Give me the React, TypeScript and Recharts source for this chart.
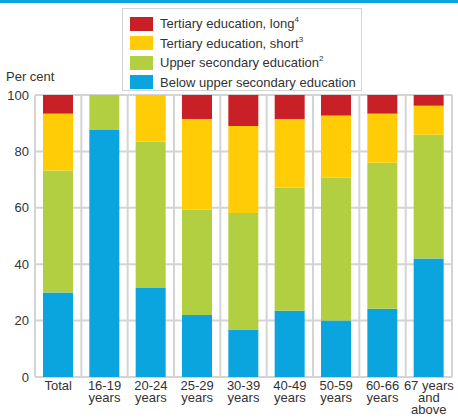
import { BarChart, Bar, XAxis, YAxis, CartesianGrid, Legend } from 'recharts'

// ─── Data ─────────────────────────────────────────────────────────────────────

const categories = ['Total', '16-19\nyears', '20-24\nyears', '25-29\nyears', '30-39\nyears', '40-49\nyears', '50-59\nyears', '60-66\nyears', '67 years\nand\nabove']
const belowUpperSecondary = [30, 87.6, 31.6, 22, 16.8, 23.5, 20, 24.2, 42]
const upperSecondary      = [43.2, 12.4, 51.8, 37.3, 41.4, 43.6, 50.7, 51.8, 43.9]
const tertiaryShort       = [20.2, 0, 16.6, 32.2, 30.8, 24.4, 22, 17.4, 10.3]
const tertiaryLong        = [6.6, 0, 0, 8.5, 11, 8.5, 7.3, 6.6, 3.8]
const yTicks = [0, 20, 40, 60, 80, 100]

// ─── Colours ──────────────────────────────────────────────────────────────────

const BLUE   = '#0AA5DE'
const GREEN  = '#B1CF40'
const YELLOW = '#FFCC05'
const RED    = '#C91F26'
const GRID   = '#D4D4D4'
const TEXT   = '#333333'
const FONT   = '"Liberation Sans", Arial, sans-serif'

const data = categories.map((c, i) => ({
  name: c,
  below: belowUpperSecondary[i],
  upper: upperSecondary[i],
  short: tertiaryShort[i],
  long: tertiaryLong[i],
}))

const legendItems = [
  { label: 'Tertiary education, long', sup: '4', color: RED },
  { label: 'Tertiary education, short', sup: '3', color: YELLOW },
  { label: 'Upper secondary education', sup: '2', color: GREEN },
  { label: 'Below upper secondary education', sup: '', color: BLUE },
]

function LegendBox() {
  return (
    <div style={{
      border: `1.5px solid ${GRID}`, background: '#fff',
      width: 240, height: 83, boxSizing: 'border-box',
      padding: '5px 0 0 7px', fontFamily: FONT, fontSize: 13, color: TEXT,
    }}>
      {legendItems.map(it => (
        <div key={it.label} style={{ display: 'flex', alignItems: 'center', height: 19.5 }}>
          <span style={{ width: 23, height: 14, background: it.color, marginRight: 7, flex: 'none' }} />
          <span style={{ whiteSpace: 'nowrap' }}>
            {it.label}
            {it.sup && <sup style={{ fontSize: 8, verticalAlign: 'top', lineHeight: 1 }}>{it.sup}</sup>}
          </span>
        </div>
      ))}
    </div>
  )
}

function XTick({ x, y, payload }: any) {
  const lines = String(payload.value).split('\n')
  return (
    <text x={x} y={y} textAnchor="middle" fontFamily={FONT} fontSize={13} fill={TEXT}>
      {lines.map((l, i) => (
        <tspan key={i} x={x} dy={i === 0 ? 11 : 12}>{l}</tspan>
      ))}
    </text>
  )
}

export default function App() {
  return (
    <div style={{ position: 'absolute', left: 0, top: 0, width: 458, height: 419, background: '#fff', overflow: 'hidden' }}>
      <div style={{ position: 'absolute', left: 0, top: 0, width: 458, height: 3, background: BLUE }} />
      <BarChart
        width={458}
        height={419}
        data={data}
        margin={{ top: 95, right: 6, left: 0, bottom: 0 }}
        barSize={30}
      >
        <CartesianGrid
          stroke={GRID}
          strokeWidth={2}
          verticalCoordinatesGenerator={({ offset }: any) =>
            categories.map((_, i) => offset.left + (i * offset.width) / categories.length)
              .concat(offset.left + offset.width)}
        />
        <XAxis
          dataKey="name"
          axisLine={false}
          tickLine={false}
          tickSize={0}
          interval={0}
          height={42}
          tick={<XTick />}
        />
        <YAxis
          domain={[0, 100]}
          ticks={yTicks}
          width={35}
          axisLine={false}
          tickLine={false}
          tickSize={0}
          tickMargin={6}
          tick={{ fontFamily: FONT, fontSize: 13, fill: TEXT }}
          label={({ viewBox }: any) => (
            <text x={6} y={viewBox.y - 14} fontFamily={FONT} fontSize={13} fill={TEXT}>Per cent</text>
          )}
        />
        <Legend
          layout="horizontal"
          verticalAlign="middle"
          align="center"
          content={() => <LegendBox />}
          wrapperStyle={{ position: 'absolute', top: 8, left: 122, width: 240, height: 83 }}
        />
        <Bar dataKey="below" stackId="a" fill={BLUE} isAnimationActive={false} />
        <Bar dataKey="upper" stackId="a" fill={GREEN} isAnimationActive={false} />
        <Bar dataKey="short" stackId="a" fill={YELLOW} isAnimationActive={false} />
        <Bar dataKey="long" stackId="a" fill={RED} isAnimationActive={false} />
      </BarChart>
    </div>
  )
}
